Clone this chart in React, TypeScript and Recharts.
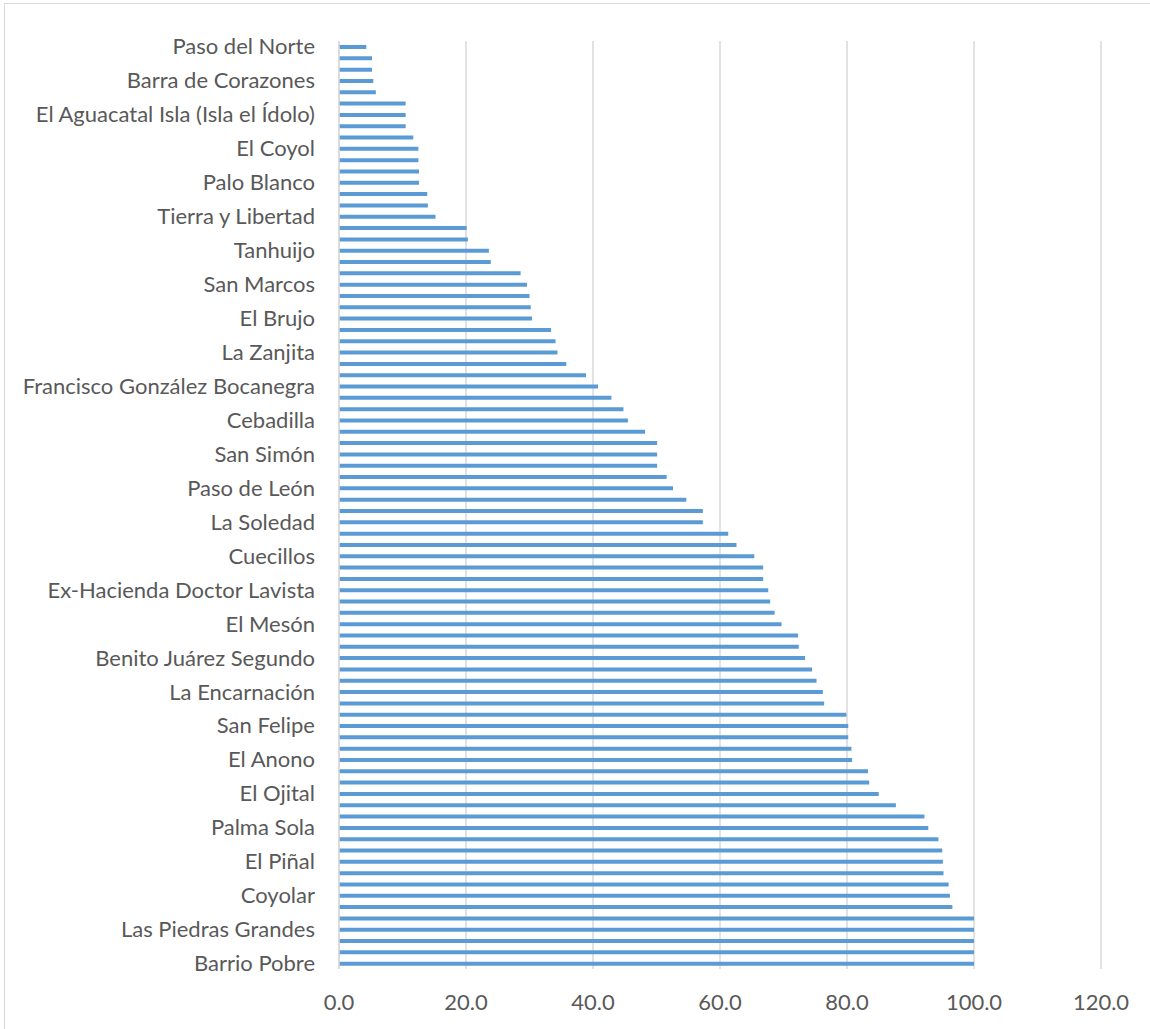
import { BarChart, Bar, XAxis, YAxis, CartesianGrid } from "recharts";

// every third row carries a label, top to bottom
const labels = [
  "Paso del Norte",
  "Barra de Corazones",
  "El Aguacatal Isla (Isla el Ídolo)",
  "El Coyol",
  "Palo Blanco",
  "Tierra y Libertad",
  "Tanhuijo",
  "San Marcos",
  "El Brujo",
  "La Zanjita",
  "Francisco González Bocanegra",
  "Cebadilla",
  "San Simón",
  "Paso de León",
  "La Soledad",
  "Cuecillos",
  "Ex-Hacienda Doctor Lavista",
  "El Mesón",
  "Benito Juárez Segundo",
  "La Encarnación",
  "San Felipe",
  "El Anono",
  "El Ojital",
  "Palma Sola",
  "El Piñal",
  "Coyolar",
  "Las Piedras Grandes",
  "Barrio Pobre",
];

// percentages, top row first
const values = [
  4.3, 5.2, 5.2, 5.4, 5.8, 10.5, 10.5, 10.5, 11.7, 12.5,
  12.5, 12.6, 12.6, 13.9, 14.0, 15.2, 20.1, 20.3, 23.6, 23.9,
  28.6, 29.6, 30.0, 30.2, 30.4, 33.4, 34.1, 34.4, 35.8, 38.9,
  40.8, 42.9, 44.8, 45.5, 48.2, 50.1, 50.1, 50.1, 51.6, 52.6,
  54.7, 57.3, 57.3, 61.3, 62.6, 65.4, 66.8, 66.8, 67.6, 67.9,
  68.6, 69.7, 72.3, 72.4, 73.4, 74.5, 75.2, 76.2, 76.4, 79.9,
  80.2, 80.2, 80.7, 80.8, 83.3, 83.5, 85.0, 87.7, 92.2, 92.8,
  94.4, 95.0, 95.1, 95.2, 96.0, 96.2, 96.6, 100, 100, 100,
  100, 100,
];

const xTicks = [0, 20, 40, 60, 80, 100, 120];

const data = values.map((v, i) => ({ id: i, value: v }));

const font = "Lato, 'Open Sans', sans-serif";

export default function App() {
  return (
    <div
      style={{
        position: "absolute",
        left: 0,
        top: 0,
        width: 1150,
        height: 1029,
        overflow: "hidden",
        background: "#fff",
        fontFamily: font,
      }}
    >
      <div
        style={{
          position: "absolute",
          left: 4,
          top: 3,
          width: 1200,
          height: 1100,
          border: "1px solid #d9d9d9",
        }}
      />
      <div style={{ position: "absolute", left: 0, top: 0 }}>
        <BarChart
          width={1150}
          height={1029}
          data={data}
          layout="vertical"
          margin={{ top: 41, right: 49, bottom: 0, left: 0 }}
        >
          <CartesianGrid horizontal={false} stroke="#d9d9d9" strokeWidth={1.5} />
          <XAxis
            type="number"
            domain={[0, 120]}
            ticks={xTicks}
            height={60}
            axisLine={false}
            tickLine={false}
            tickSize={0}
            tickMargin={25}
            tick={{ fontSize: 22, fill: "#595959", fontFamily: font }}
            tickFormatter={(v) => Number(v).toFixed(1)}
          />
          <YAxis
            type="category"
            dataKey="id"
            width={339}
            interval={0}
            axisLine={{ stroke: "#d9d9d9", strokeWidth: 1.5 }}
            tickLine={false}
            tickSize={0}
            tickMargin={24}
            tick={{ fontSize: 22, fill: "#595959", fontFamily: font }}
            tickFormatter={(i) => (Number(i) % 3 === 0 ? labels[Number(i) / 3] : "")}
          />
          <Bar dataKey="value" fill="#5b9bd5" barSize={4} isAnimationActive={false} />
        </BarChart>
      </div>
    </div>
  );
}
